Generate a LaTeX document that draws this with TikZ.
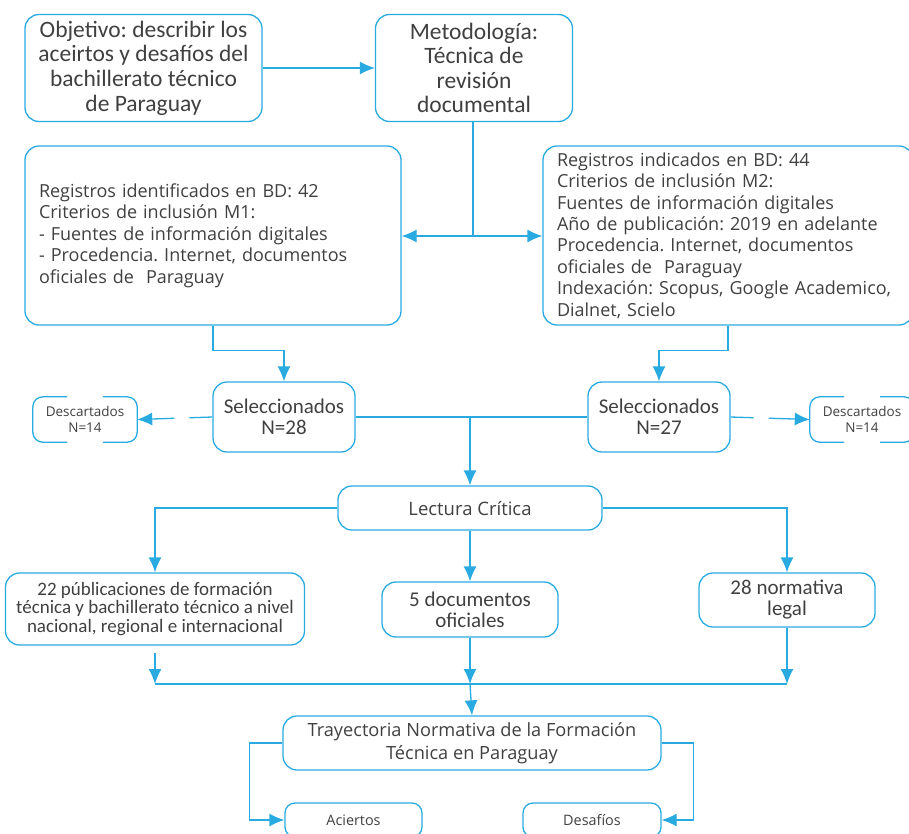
\documentclass[tikz,border=0pt]{standalone}
\usepackage{fontspec}
\setmainfont{Carlito}
\newfontfamily\segoe{Open Sans}
\frenchspacing
\usepackage{tikz}
\usetikzlibrary{arrows.meta}
\usetikzlibrary{calc}
\definecolor{lineblue}{RGB}{41,171,226}
\definecolor{textgray}{RGB}{64,64,64}
\tikzstyle{box} = [rectangle, rounded corners=14pt, draw=lineblue, line width=1.3pt, text=textgray, align=center, inner sep=0pt]
\tikzstyle{top_box} = [box, font=\fontsize{23.5}{24.6}\selectfont]
\tikzstyle{reg_box} = [box, align=left, font=\segoe\fontsize{18}{21.5}\selectfont]
\tikzstyle{sel_box} = [box, font=\fontsize{21}{21}\selectfont]
\tikzstyle{res_box} = [box, font=\fontsize{19}{18.5}\selectfont]
\tikzstyle{disc_node} = [rectangle, text=textgray, align=center, font=\segoe\fontsize{13.5}{16}\selectfont]
\tikzstyle{small_box} = [box, rounded corners=10pt, font=\segoe\fontsize{14.4}{16}\selectfont]
\tikzstyle{line} = [draw=lineblue, line width=1.3pt]
\tikzstyle{arrow} = [line, -{Latex[length=15pt,width=13pt]}]
\tikzstyle{dash_arrow} = [arrow, dash pattern=on 23pt off 15pt on 80pt]

\begin{document}
\begin{tikzpicture}[x=1pt, y=-1pt]
    \useasboundingbox (0,0) rectangle (909,833);
    \clip (0,0) rectangle (909,833);

    % objetivo y metodologia
    \node(obj) [top_box, minimum width=237pt, minimum height=107pt] at (143.5,68) {Objetivo: describir los\\aceirtos y desafíos del\\bachillerato técnico\\de Paraguay};
    \node(met) [top_box, minimum width=197pt, minimum height=107pt] at (474,68) {Metodología:\\Técnica de\\revisión\\documental};

    % registros
    \node(regL) [reg_box, minimum width=376pt, minimum height=179pt, text width=348pt] at (213,235.5) {Registros identificados en BD: 42\\Criterios de inclusión M1:\\- Fuentes de información digitales\\- Procedencia. Internet, documentos\\oficiales de \ Paraguay};
    \node(regR) [reg_box, minimum width=370pt, minimum height=179pt, text width=342pt, font=\segoe\fontsize{18}{21.4}\selectfont] at (728,235.5) {Registros indicados en BD: 44\\Criterios de inclusión M2:\\Fuentes de información digitales\\Año de publicación: 2019 en adelante\\Procedencia. Internet, documentos\\oficiales de \ Paraguay\\Indexación: Scopus, Google Academico,\\Dialnet, Scielo};

    % seleccionados y descartados
    \node(selL) [sel_box, minimum width=142pt, minimum height=70pt] at (284,417) {Seleccionados\\N=28};
    \node(selR) [sel_box, minimum width=142pt, minimum height=70pt] at (659,417) {Seleccionados\\N=27};
    \node(discL) [disc_node, minimum width=104pt, minimum height=45pt] at (85,419.5) {Descartados\\N=14};
    \node(discR) [disc_node, minimum width=104pt, minimum height=45pt] at (862,419.5) {Descartados\\N=14};
    \foreach \d in {discL, discR} {
        \draw[line, rounded corners=10pt] ([xshift=-18pt]\d.north) -| (\d.west) |- ([xshift=-18pt]\d.south);
        \draw[line, rounded corners=10pt] ([xshift=18pt]\d.north) -| (\d.east) |- ([xshift=18pt]\d.south);
    }

    % lectura critica y resultados
    \node(lect) [box, minimum width=264pt, minimum height=44pt, font=\segoe\fontsize{18.5}{20}\selectfont] at (470,508) {Lectura Crítica};
    \node(pub) [res_box, minimum width=299pt, minimum height=72pt] at (155,609) {22 públicaciones de formación\\técnica y bachillerato técnico a nivel\\nacional, regional e internacional};
    \node(docs) [sel_box, minimum width=176pt, minimum height=55pt] at (470,609.5) {5 documentos\\oficiales};
    \node(norm) [sel_box, minimum width=176pt, minimum height=54pt] at (787,600) {28 normativa\\legal};

    % trayectoria
    \node(tray) [box, minimum width=378pt, minimum height=54pt, font=\segoe\fontsize{18.2}{23}\selectfont] at (472,743) {Trayectoria Normativa de la Formación\\Técnica en Paraguay};
    \node(aci) [small_box, minimum width=137pt, minimum height=34pt] at (353.5,820) {Aciertos};
    \node(des) [small_box, minimum width=138pt, minimum height=34pt] at (592,820) {Desafíos};

    \coordinate(j1) at (473,236);
    \coordinate(j2) at (470,417);
    \coordinate(j3) at (470,684);

    \draw[arrow] (obj) -- (met);
    \draw[line] (met.south -| j1) -- (j1);
    \draw[arrow] (j1) -- (regL.east |- j1);
    \draw[arrow] (j1) -- (regR.west |- j1);
    \draw[arrow] (regL.south) -- ++(0,25) -| (selL.north);
    \draw[arrow] (regR.south) -- ++(0,25) -| (selR.north);
    \draw[dash_arrow] (selL.west) -- (discL.east);
    \draw[dash_arrow] (selR.east) -- (discR.west);
    \draw[line] (selL.east) -- (selR.west);
    \draw[arrow] (j2) -- (lect.north);
    \draw[arrow] (lect.west) -| (pub.north);
    \draw[arrow] (lect.east) -| (norm.north);
    \draw[arrow] (lect.south) -- (docs.north);
    \draw[arrow] ([yshift=-7pt]pub.south) -- (pub.south |- j3);
    \draw[arrow] (docs.south) -- (docs.south |- j3);
    \draw[arrow] (norm.south) -- (norm.south |- j3);
    \draw[line] (pub.south |- j3) -- (norm.south |- j3);
    \draw[arrow] (j3) -- (tray.north);
    \draw[arrow] (tray.west) -- ++(-33,0) |- (aci.west);
    \draw[arrow] (tray.east) -- ++(32,0) |- (des.east);
\end{tikzpicture}
\end{document}
